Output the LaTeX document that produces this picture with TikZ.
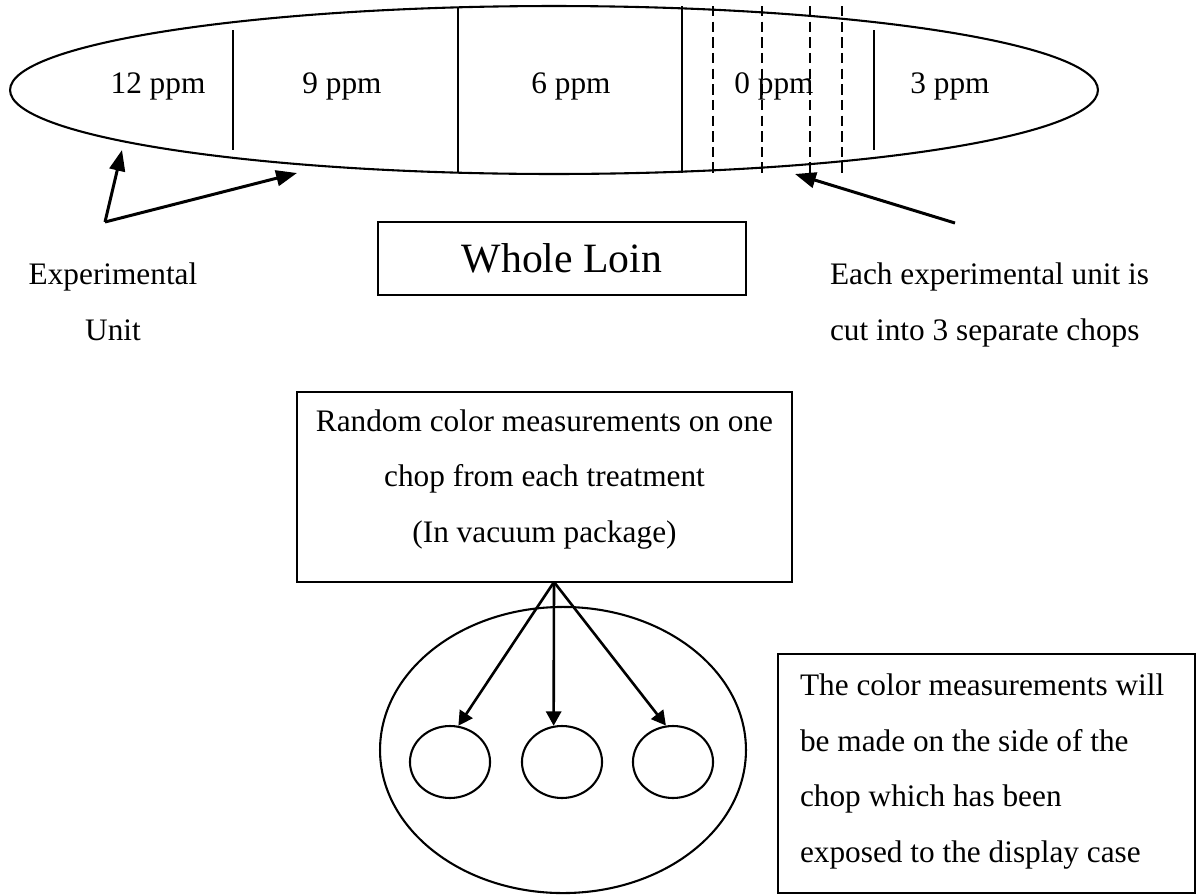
\documentclass[tikz,border=0pt]{standalone}
\usepackage{fontspec}
\setmainfont{Liberation Serif}
\usetikzlibrary{arrows.meta,shapes.geometric}
\begin{document}
\begin{tikzpicture}[x=0.3834pt,y=-0.3834pt, line width=0.8pt,
  lbl/.style={inner sep=0pt, font=\fontsize{12pt}{21.4pt}\selectfont},
  box/.style={draw, line width=0.9pt, inner sep=0pt},
  oval/.style={draw, ellipse, inner sep=0pt, line width=0.8pt},
  cut/.style={line width=0.8pt},
  dcut/.style={line width=0.8pt, dash pattern=on 4pt off 2pt},
  bigarrow/.style={line width=1.15pt, -{Triangle[length=8pt,width=6pt]}},
  smallarrow/.style={line width=1pt, -{Triangle[length=5.5pt,width=5.8pt]}}]
\useasboundingbox (0,0) rectangle (1199,895);

% whole loin
\node[oval, minimum width=417.1pt, minimum height=64.4pt] (loin) at (554,90) {};
\draw[cut] (233,30) -- (233,150);
\draw[cut] (458,8) -- (458,172);
\draw[cut] (682,6) -- (682,173);
\draw[dcut] (713,6) -- (713,175);
\draw[dcut] (762,6) -- (762,175);
\draw[dcut] (810,6) -- (810,175);
\draw[dcut] (842,6) -- (842,175);
\draw[cut] (874,30) -- (874,150);
\node[lbl, anchor=base] (p12) at (158,93) {12 ppm};
\node[lbl, anchor=base] (p9) at (342,93) {9 ppm};
\node[lbl, anchor=base] (p6) at (571,93) {6 ppm};
\node[lbl, anchor=base] (p0) at (774,93) {0 ppm};
\node[lbl, anchor=base] (p3) at (950,93) {3 ppm};

% labels and pointers
\node[lbl, align=center] (eulbl) at (113,302) {Experimental\\Unit};
\coordinate (eu) at (105,222);
\coordinate (eut1) at (122,150);
\coordinate (eut2) at (297,173);
\draw[bigarrow] (eu) -- (eut1);
\draw[bigarrow] (eu) -- (eut2);

\node[lbl, align=left, anchor=west] (chlbl) at (829,305) {Each experimental unit is\\cut into 3 separate chops};
\coordinate (ch) at (955,223);
\coordinate (cht) at (795,174);
\draw[bigarrow] (ch) -- (cht);

\node[box, minimum width=141.1pt, minimum height=28pt, font=\fontsize{16pt}{19pt}\selectfont] (loinbox) at (562,258.5) {Whole Loin};

% random measurement box
\node[box, minimum width=189.8pt, minimum height=72.8pt] (rbox) at (544.5,487) {};
\node[lbl, align=center] (rtext) at (544.5,479.5) {Random color measurements on one\\chop from each treatment\\(In vacuum package)};

% package with chops
\node[oval, minimum width=140.3pt, minimum height=109.7pt] (pkg) at (563,750) {};
\node[oval, minimum width=30.7pt, minimum height=27.6pt] (c1) at (450,762) {};
\node[oval, minimum width=30.7pt, minimum height=27.6pt] (c2) at (562,762) {};
\node[oval, minimum width=30.7pt, minimum height=27.6pt] (c3) at (673,762) {};
\coordinate (src) at (554,582);
\draw[smallarrow] (src) -- (c1.77);
\draw[smallarrow] (src) -- (c2.103);
\draw[smallarrow] (src) -- (c3.101);

% note box
\node[box, minimum width=159.9pt, minimum height=91.6pt] (cbox) at (986.5,773.5) {};
\node[lbl, align=left, anchor=west] (ctext) at (799,771.5) {The color measurements will\\be made on the side of the\\chop which has been\\exposed to the display case};
\end{tikzpicture}
\end{document}
